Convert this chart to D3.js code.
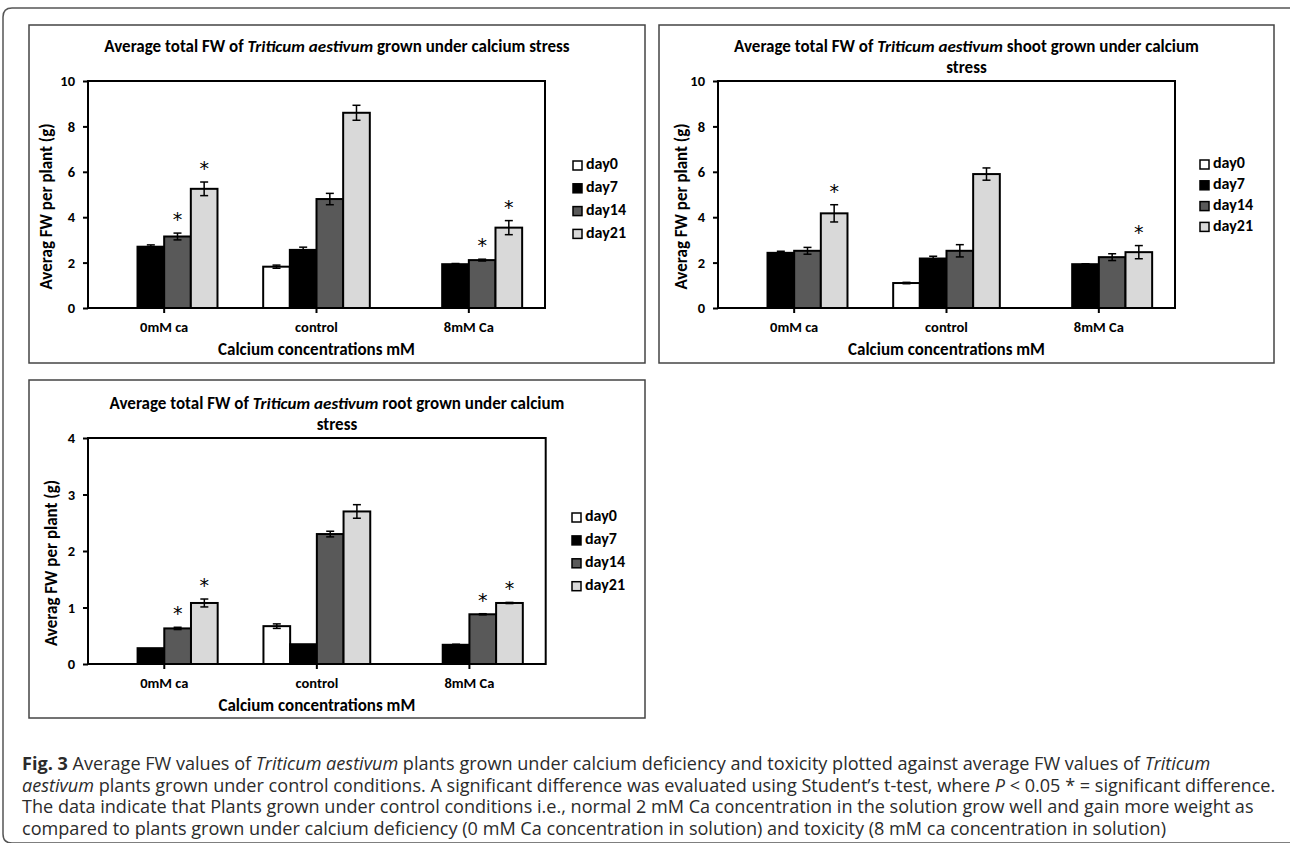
<!DOCTYPE html>
<html>
<head>
<meta charset="utf-8">
<script src="https://cdn.jsdelivr.net/npm/d3@7"></script>
<style>
  body { margin: 0; background: #fff; }
  svg { display: block; }
  .chart text { font-family: Carlito, Lato, sans-serif; font-weight: bold; fill: #000; }
  .caption text { font-family: "Open Sans", sans-serif; fill: #2b2b2b; }
</style>
</head>
<body>
<div id="fig"></div>
<script>
(function(d3) {
'use strict';

var categories = ['0mM ca', 'control', '8mM Ca'];
var series = ['day0', 'day7', 'day14', 'day21'];
var colors = ['#ffffff', '#000000', '#595959', '#d9d9d9'];

// total FW
var totalValues = [[null, 2.70, 3.15, 5.25], [1.82, 2.56, 4.80, 8.60], [null, 1.93, 2.11, 3.54]];
var totalErrors = [[0, 0.08, 0.15, 0.30], [0.07, 0.12, 0.25, 0.33], [0, 0.03, 0.04, 0.31]];
var totalStars  = [[0, 0, 1, 1], [0, 0, 0, 0], [0, 0, 1, 1]];

// shoot FW
var shootValues = [[null, 2.43, 2.52, 4.17], [1.10, 2.18, 2.52, 5.90], [null, 1.93, 2.24, 2.46]];
var shootErrors = [[0, 0.07, 0.15, 0.38], [0.03, 0.10, 0.27, 0.27], [0, 0.02, 0.15, 0.29]];
var shootStars  = [[0, 0, 0, 1], [0, 0, 0, 0], [0, 0, 0, 1]];

// root FW
var rootValues = [[null, 0.28, 0.63, 1.08], [0.67, 0.35, 2.30, 2.70], [null, 0.34, 0.88, 1.08]];
var rootErrors = [[0, 0, 0.02, 0.07], [0.04, 0, 0.05, 0.12], [0, 0.01, 0.01, 0.01]];
var rootStars  = [[0, 0, 1, 1], [0, 0, 0, 0], [0, 0, 1, 1]];

var tickTen = [0, 2, 4, 6, 8, 10];
var tickFour = [0, 1, 2, 3, 4];

var yLabel = 'Averag FW per plant (g)';
var xLabel = 'Calcium concentrations mM';

var width = 1290, height = 843;

var svg = d3.select('#fig').append('svg')
  .attr('width', width)
  .attr('height', height);

// outer frame of the figure (rounded on the left, runs off the right edge)
svg.append('path')
  .attr('d', 'M1300,8 H12 Q3,8 3,17 V834 Q3,843 12,843 H1300')
  .attr('fill', 'none')
  .attr('stroke', '#555')
  .attr('stroke-width', 1.5);

var panels = [
  { box: [29, 25, 645, 363], plot: [88, 81, 545, 308], yMax: 10, ticks: tickTen,
    values: totalValues, errors: totalErrors, stars: totalStars,
    title: [['Average total FW of ', 'Triticum aestivum', ' grown under calcium stress']],
    titleY: 52, yLabelX: 48, xTickY: 328, xTitleY: 355,
    legend: { x: 573, y: 165.5, dy: 22.8 } },
  { box: [659, 25, 1274, 363], plot: [718, 81, 1175, 308], yMax: 10, ticks: tickTen,
    values: shootValues, errors: shootErrors, stars: shootStars,
    title: [['Average total FW of ', 'Triticum aestivum', ' shoot grown under calcium'], ['', '', 'stress']],
    titleY: 52, yLabelX: 683, xTickY: 328, xTitleY: 355,
    legend: { x: 1200, y: 164.5, dy: 20.8 } },
  { box: [29, 380, 645, 718], plot: [88, 438, 545.7, 664], yMax: 4, ticks: tickFour,
    values: rootValues, errors: rootErrors, stars: rootStars,
    title: [['Average total FW of ', 'Triticum aestivum', ' root grown under calcium'], ['', '', 'stress']],
    titleY: 409, yLabelX: 53, xTickY: 684, xTitleY: 711,
    legend: { x: 572, y: 517.5, dy: 22.9 } }
];

panels.forEach(drawPanel);

function drawPanel(p) {
  var g = svg.append('g').attr('class', 'chart');
  var l = p.plot[0], t = p.plot[1], r = p.plot[2], b = p.plot[3];

  g.append('rect')
    .attr('x', p.box[0]).attr('y', p.box[1])
    .attr('width', p.box[2] - p.box[0]).attr('height', p.box[3] - p.box[1])
    .attr('fill', '#fff').attr('stroke', '#444').attr('stroke-width', 1.5);

  var x0 = d3.scaleBand().domain(categories).range([l, r])
    .paddingInner(0.3).paddingOuter(0.15);
  var x1 = d3.scaleBand().domain(series).range([0, x0.bandwidth()]);
  var y = d3.scaleLinear().domain([0, p.yMax]).range([b, t]);

  // title
  var cx = (p.box[0] + p.box[2]) / 2;
  p.title.forEach(function(line, i) {
    var tt = g.append('text')
      .attr('x', cx).attr('y', p.titleY + i * 20.6)
      .attr('text-anchor', 'middle')
      .style('font-size', '17px');
    line.forEach(function(part, j) {
      if (!part) return;
      tt.append('tspan').text(part).style('font-style', j === 1 ? 'italic' : 'normal');
    });
  });

  // bars
  var rows = [];
  categories.forEach(function(c, ci) {
    series.forEach(function(s, si) {
      if (p.values[ci][si] == null) return;
      rows.push({ cat: c, ser: s, si: si, v: p.values[ci][si], e: p.errors[ci][si], star: p.stars[ci][si] });
    });
  });

  g.selectAll('rect.bar')
    .data(rows)
    .enter().append('rect')
    .attr('class', 'bar')
    .attr('x', function(d) { return x0(d.cat) + x1(d.ser); })
    .attr('y', function(d) { return y(d.v); })
    .attr('width', x1.bandwidth())
    .attr('height', function(d) { return y(0) - y(d.v); })
    .attr('fill', function(d) { return colors[d.si]; })
    .attr('stroke', '#000')
    .attr('stroke-width', 2);

  // error bars
  var eb = g.selectAll('g.err')
    .data(rows.filter(function(d) { return d.e > 0; }))
    .enter().append('g')
    .attr('class', 'err')
    .attr('stroke', '#000')
    .attr('stroke-width', 1.5);
  function mid(d) { return x0(d.cat) + x1(d.ser) + x1.bandwidth() / 2; }
  eb.append('line')
    .attr('x1', mid).attr('x2', mid)
    .attr('y1', function(d) { return y(d.v + d.e); })
    .attr('y2', function(d) { return y(d.v - d.e); });
  [1, -1].forEach(function(sign) {
    eb.append('line')
      .attr('x1', function(d) { return mid(d) - 4; })
      .attr('x2', function(d) { return mid(d) + 4; })
      .attr('y1', function(d) { return y(d.v + sign * d.e); })
      .attr('y2', function(d) { return y(d.v + sign * d.e); });
  });

  // significance stars
  g.selectAll('text.star')
    .data(rows.filter(function(d) { return d.star; }))
    .enter().append('text')
    .attr('class', 'star')
    .attr('x', mid)
    .attr('y', function(d) { return y(d.v + d.e) - 7; })
    .attr('text-anchor', 'middle')
    .style('font-family', '"DejaVu Sans", sans-serif')
    .style('font-weight', 'normal')
    .style('font-size', '19px')
    .text('*');

  // plot border
  g.append('rect')
    .attr('x', l).attr('y', t)
    .attr('width', r - l).attr('height', b - t)
    .attr('fill', 'none').attr('stroke', '#000').attr('stroke-width', 2);

  // axes
  var ya = g.append('g')
    .attr('transform', 'translate(' + l + ',0)')
    .call(d3.axisLeft(y).tickValues(p.ticks).tickFormat(d3.format('d'))
      .tickSize(5).tickSizeOuter(0).tickPadding(8));
  var xa = g.append('g')
    .attr('transform', 'translate(0,' + b + ')')
    .call(d3.axisBottom(x0).tickSize(5).tickSizeOuter(0).tickPadding(8));
  [ya, xa].forEach(function(a) {
    a.select('.domain').remove();
    a.selectAll('line').attr('stroke', '#000').attr('stroke-width', 2);
    a.selectAll('text').style('font-size', '14.5px').attr('fill', '#000')
      .style('font-family', 'Carlito, Lato, sans-serif').style('font-weight', 'bold');
  });
  xa.selectAll('text').attr('y', null).attr('dy', null)
    .attr('y', p.xTickY - b).attr('dominant-baseline', 'middle');

  // axis titles
  g.append('text')
    .attr('transform', 'translate(' + p.yLabelX + ',' + ((t + b) / 2 + 12) + ') rotate(-90)')
    .attr('text-anchor', 'middle')
    .attr('dominant-baseline', 'middle')
    .style('font-size', '17px')
    .text(yLabel);
  g.append('text')
    .attr('x', (l + r) / 2)
    .attr('y', p.xTitleY)
    .attr('text-anchor', 'middle')
    .style('font-size', '17px')
    .text(xLabel);

  // legend
  var lg = g.selectAll('g.legend')
    .data(series)
    .enter().append('g')
    .attr('class', 'legend')
    .attr('transform', function(d, i) { return 'translate(' + p.legend.x + ',' + (p.legend.y + i * p.legend.dy) + ')'; });
  lg.append('rect')
    .attr('x', 0).attr('y', -4.5)
    .attr('width', 9).attr('height', 9)
    .attr('fill', function(d, i) { return colors[i]; })
    .attr('stroke', '#000').attr('stroke-width', 1.5);
  lg.append('text')
    .attr('x', 13)
    .attr('dominant-baseline', 'middle')
    .style('font-size', '16px')
    .text(function(d) { return d; });
}

// caption
var captionLines = [
  [['Fig. 3', 'b'], [' Average FW values of ', ''], ['Triticum aestivum', 'i'], [' plants grown under calcium deficiency and toxicity plotted against average FW values of ', ''], ['Triticum', 'i']],
  [['aestivum', 'i'], [' plants grown under control conditions. A significant difference was evaluated using Student\u2019s t-test, where ', ''], ['P', 'i'], [' < 0.05 * = significant difference.', '']],
  [['The data indicate that Plants grown under control conditions i.e., normal 2 mM Ca concentration in the solution grow well and gain more weight as', '']],
  [['compared to plants grown under calcium deficiency (0 mM Ca concentration in solution) and toxicity (8 mM ca concentration in solution)', '']]
];

var cap = svg.append('g').attr('class', 'caption');
var capLines = cap.selectAll('text')
  .data(captionLines)
  .enter().append('text')
  .attr('x', 22)
  .attr('y', function(d, i) { return 770 + i * 21.5; })
  .style('font-size', '16px');
capLines.each(function(line) {
  var el = d3.select(this);
  line.forEach(function(part) {
    el.append('tspan').text(part[0])
      .style('font-weight', part[1] === 'b' ? 'bold' : 'normal')
      .style('font-style', part[1] === 'i' ? 'italic' : 'normal');
  });
});
// fit the caption width to the figure
var w2 = capLines.nodes()[1].getComputedTextLength();
capLines.style('font-size', (16 * 1254 / w2) + 'px');

})(window.d3);
</script>
</body>
</html>
